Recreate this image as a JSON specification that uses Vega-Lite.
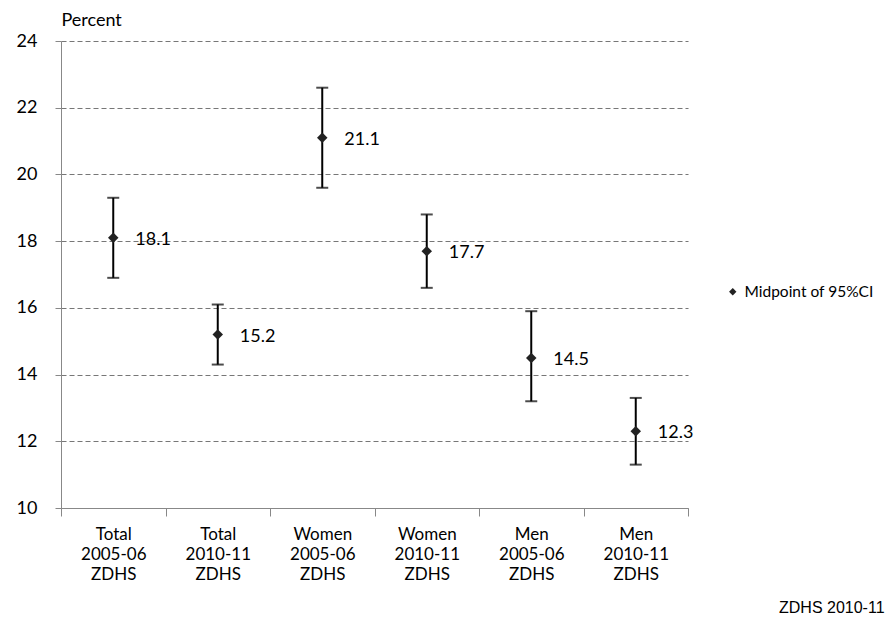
{
  "$schema": "https://vega.github.io/schema/vega-lite/v6.json",
  "width": 627,
  "height": 467,
  "autosize": {"type": "none"},
  "padding": {"left": 61, "top": 41, "right": 207, "bottom": 126},
  "background": "white",
  "config": {"view": {"stroke": null}, "font": "Lato"},
  "title": {"text": "ZDHS 2010-11", "orient": "bottom", "anchor": "start", "frame": "group", "align": "left", "font": "Liberation Sans", "fontSize": 16, "fontWeight": "normal", "color": "black", "dx": 718, "offset": 18},
  "data": {"values": [
    {"cat": "Total|2005-06|ZDHS", "mid": 18.1, "lo": 16.9, "hi": 19.3, "series": "Midpoint of 95%CI"},
    {"cat": "Total|2010-11|ZDHS", "mid": 15.2, "lo": 14.3, "hi": 16.1, "series": "Midpoint of 95%CI"},
    {"cat": "Women|2005-06|ZDHS", "mid": 21.1, "lo": 19.6, "hi": 22.6, "series": "Midpoint of 95%CI"},
    {"cat": "Women|2010-11|ZDHS", "mid": 17.7, "lo": 16.6, "hi": 18.8, "series": "Midpoint of 95%CI"},
    {"cat": "Men|2005-06|ZDHS", "mid": 14.5, "lo": 13.2, "hi": 15.9, "series": "Midpoint of 95%CI"},
    {"cat": "Men|2010-11|ZDHS", "mid": 12.3, "lo": 11.3, "hi": 13.3, "series": "Midpoint of 95%CI"}
  ]},
  "encoding": {
    "x": {"field": "cat", "type": "nominal", "sort": null,
      "scale": {"paddingInner": 0, "paddingOuter": 0},
      "axis": {"title": null, "labelAngle": 0, "labelExpr": "isValid(datum.value) ? split(datum.value, '|') : ''", "tickBand": "extent", "tickSize": 8, "tickColor": "#888", "domainColor": "#888", "labelFont": "Lato", "labelFontSize": 17, "labelColor": "black", "labelPadding": 10, "labelLineHeight": 20, "labelBaseline": "top"}}
  },
  "layer": [
    {
      "mark": {"type": "rule", "color": "black", "strokeWidth": 2},
      "encoding": {
        "y": {"field": "lo", "type": "quantitative", "scale": {"domain": [10, 24], "nice": false, "zero": false},
          "axis": {"title": "Percent", "titleAngle": 0, "titleAlign": "left", "titleX": 0, "titleY": -12, "titleFont": "Lato", "titleFontSize": 18, "titleFontWeight": "normal", "titleColor": "black",
            "values": [10, 12, 14, 16, 18, 20, 22, 24], "grid": true, "gridColor": "#777", "gridDash": [5, 3], "gridWidth": 1.2,
            "domainColor": "#888", "tickColor": "#888", "tickSize": 6, "labelFont": "Lato", "labelFontSize": 18, "labelColor": "black", "labelPadding": 18}},
        "y2": {"field": "hi"}
      }
    },
    {
      "mark": {"type": "tick", "color": "black", "size": 12, "thickness": 2, "orient": "horizontal"},
      "encoding": {"y": {"field": "lo", "type": "quantitative"}}
    },
    {
      "mark": {"type": "tick", "color": "black", "size": 12, "thickness": 2, "orient": "horizontal"},
      "encoding": {"y": {"field": "hi", "type": "quantitative"}}
    },
    {
      "mark": {"type": "point", "shape": "diamond", "filled": true, "size": 110, "opacity": 1},
      "encoding": {
        "y": {"field": "mid", "type": "quantitative"},
        "color": {"field": "series", "type": "nominal", "scale": {"range": ["#222222"]},
          "legend": {"title": null, "orient": "none", "legendX": 664, "legendY": 243, "symbolType": "diamond", "symbolSize": 55, "labelFont": "Lato", "labelFontSize": 15.5, "labelColor": "black", "labelOffset": 4}}
      }
    },
    {
      "mark": {"type": "text", "align": "left", "dx": 22, "dy": 2, "font": "Lato", "fontSize": 18, "color": "black"},
      "encoding": {
        "y": {"field": "mid", "type": "quantitative"},
        "text": {"field": "mid", "type": "quantitative", "format": ".1f"}
      }
    }
  ]
}
